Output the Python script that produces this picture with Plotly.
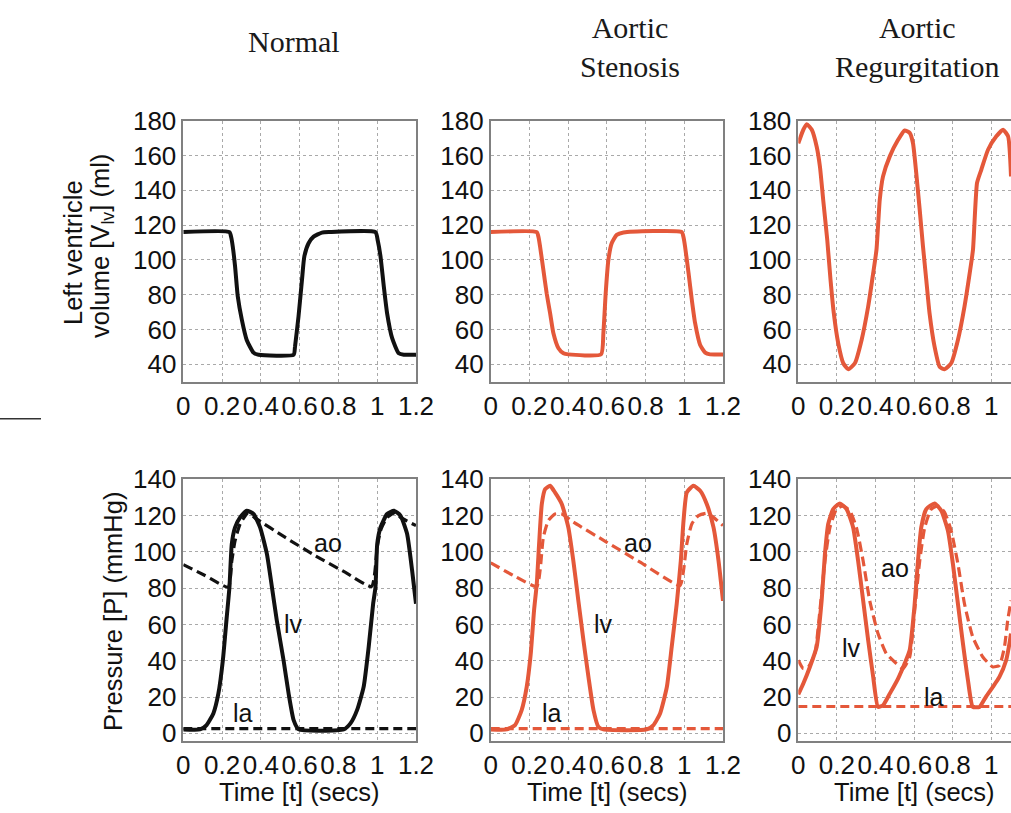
import plotly.graph_objects as go
from plotly.subplots import make_subplots

W, H = 1011, 813
BLACK = "#111111"
ORANGE = "#e4583a"
SANS = "Liberation Sans, Arial, sans-serif"
SERIF = "Liberation Serif, Times New Roman, serif"

# ---------------- data ----------------
column_titles = ["Normal", "Aortic<br>Stenosis", "Aortic<br>Regurgitation"]
x_tick_vals = [0, 0.2, 0.4, 0.6, 0.8, 1.0, 1.2]
x_tick_text = ["0", "0.2", "0.4", "0.6", "0.8", "1", "1.2"]
vol_tick_vals = [40, 60, 80, 100, 120, 140, 160, 180]
p_tick_vals = [0, 20, 40, 60, 80, 100, 120, 140]

# Left ventricle volume (ml)
t_vol_normal = [0, 0.238, 0.247, 0.255, 0.267, 0.281, 0.302, 0.327, 0.362, 0.388, 0.569, 0.576,
                0.594, 0.612, 0.624, 0.646, 0.672, 0.715, 0.75, 0.991, 1.003, 1.017, 1.034,
                1.051, 1.077, 1.111, 1.137, 1.2]
v_normal = [116, 116, 113, 107.7, 96.2, 78.9, 65.5, 54, 46.7, 45.5, 45.5, 50.1,
            67.4, 88.5, 101.9, 109.6, 113.4, 115.7, 116, 116, 111, 102, 84.7,
            69.3, 55, 46.3, 45.5, 45.5]

t_vol_as = [0, 0.238, 0.247, 0.255, 0.272, 0.289, 0.307, 0.324, 0.35, 0.376, 0.401, 0.57, 0.582,
            0.594, 0.608, 0.625, 0.651, 0.686, 0.987, 0.996, 1.004, 1.022, 1.039, 1.056,
            1.082, 1.108, 1.133, 1.2]
v_as = [116, 116, 113, 107.7, 94.3, 80.8, 69.3, 57.8, 49.2, 46.3, 45.7, 45.7, 57.8,
        80.8, 100, 109.6, 114.4, 115.8, 116, 113, 107.7, 92.4, 77, 63.6,
        51.1, 46.7, 45.7, 45.7]

t_vol_ar = [0, 0.026, 0.044, 0.07, 0.095, 0.112, 0.129, 0.15, 0.167, 0.184, 0.207, 0.233, 0.259,
            0.293, 0.328, 0.362, 0.388, 0.405, 0.422, 0.439, 0.474, 0.517, 0.551, 0.577,
            0.594, 0.611, 0.629, 0.646, 0.663, 0.68, 0.706, 0.732, 0.758, 0.792, 0.827,
            0.861, 0.888, 0.905, 0.926, 0.948, 0.983, 1.026, 1.061, 1.087, 1.102]
v_ar = [167, 174.8, 178, 174.8, 165.2, 153.7, 134.5, 111.5, 88.5, 69.3, 52, 40.6, 37.1,
        40.6, 54, 73.2, 92.4, 105.8, 134.5, 148, 159.5, 169, 174.4, 173,
        167.2, 150, 128.8, 107.7, 88.5, 69.3, 50.1, 38.6, 37.1, 40.6, 54,
        73.2, 92.4, 105.8, 144.2, 151.8, 163.3, 171, 174.8, 171, 148]

# Pressures (mmHg) - Normal
t_lv_normal = [0, 0.086, 0.12, 0.155, 0.181, 0.204, 0.224, 0.238, 0.25, 0.267, 0.293, 0.327,
               0.362, 0.396, 0.431, 0.457, 0.482, 0.517, 0.543, 0.569, 0.595, 0.827, 0.862,
               0.896, 0.93, 0.956, 0.979, 0.991, 1.0, 1.017, 1.051, 1.086, 1.12, 1.154,
               1.18, 1.2]
p_lv_normal = [2.2, 2.2, 4.6, 11, 22, 40.3, 64.1, 80.6, 104.4, 113.5, 119, 122.7,
               120.9, 113.5, 98.9, 80.6, 62.3, 40.3, 22, 7.3, 2.2, 2.2, 5.5,
               12.8, 25.6, 47.6, 71.4, 80.6, 104.4, 113.5, 120.9, 122.7, 120, 110,
               89.7, 71.4]
t_ao_normal = [0, 0.112, 0.232, 0.25, 0.267, 0.293, 0.336, 0.368, 0.524, 0.679, 0.834, 0.971,
               1.0, 1.017, 1.051, 1.094, 1.12, 1.2]
p_ao_normal = [93, 87, 80.6, 95, 106.2, 115.4, 121.8, 118.9, 108.1, 98, 88.8, 81,
               102.6, 111.7, 119, 121.8, 119, 114.5]
t_la_normal = [0, 0.3, 0.6, 0.9, 1.2]
p_la_normal = [2.6, 2.6, 2.6, 2.6, 2.6]

# Pressures (mmHg) - Aortic stenosis
t_lv_as = [0, 0.083, 0.126, 0.16, 0.186, 0.207, 0.224, 0.238, 0.25, 0.264, 0.281, 0.307,
           0.332, 0.367, 0.401, 0.427, 0.453, 0.479, 0.505, 0.531, 0.556, 0.582, 0.806,
           0.841, 0.875, 0.91, 0.935, 0.961, 0.982, 0.996, 1.013, 1.047, 1.082, 1.116,
           1.151, 1.177, 1.2]
p_lv_as = [2.2, 2.2, 4.6, 12.8, 25.6, 44, 67.8, 82.4, 104.4, 126.4, 134.6, 136.4,
           132.8, 126.4, 113.5, 95, 73, 51.3, 31.1, 12.8, 3.7, 2.2, 2.2,
           4.6, 11, 25.6, 47.6, 71.4, 95, 117, 132.8, 136.4, 133.7, 126.4,
           113.5, 95, 73]
t_ao_as = [0, 0.117, 0.238, 0.255, 0.272, 0.298, 0.332, 0.367, 0.427, 0.6, 0.772, 0.978,
           0.996, 1.013, 1.039, 1.073, 1.116, 1.151, 1.2]
p_ao_as = [94, 87, 80.9, 89.7, 108, 117.3, 120.9, 120.9, 116.4, 105.3, 94.3, 81.5,
           89.7, 104.4, 115.4, 120, 121.3, 119, 114.5]
t_la_as = [0, 0.3, 0.6, 0.9, 1.2]
p_la_as = [2.6, 2.6, 2.6, 2.6, 2.6]

# Pressures (mmHg) - Aortic regurgitation
t_lv_ar = [0, 0.026, 0.06, 0.095, 0.121, 0.138, 0.155, 0.181, 0.215, 0.25, 0.284, 0.31,
           0.336, 0.362, 0.388, 0.413, 0.439, 0.474, 0.517, 0.551, 0.577, 0.603, 0.62,
           0.637, 0.663, 0.706, 0.741, 0.775, 0.801, 0.827, 0.853, 0.879, 0.904, 0.939,
           0.973, 1.008, 1.042, 1.077, 1.094, 1.102]
p_lv_ar = [21.5, 27.5, 36.6, 47.6, 73.2, 98.9, 115.4, 123.6, 126.7, 123.6, 113.5, 95,
           73.2, 51.3, 31.1, 14.6, 15.5, 21.9, 30.2, 38.5, 45.8, 71.4, 95,
           113.5, 123.6, 126.7, 122.7, 111.7, 93.4, 71.4, 49.5, 29.3, 14.6, 14.6,
           20.3, 25.6, 31.1, 40.3, 49.5, 55]
t_ao_ar = [0, 0.026, 0.052, 0.086, 0.112, 0.138, 0.164, 0.198, 0.233, 0.267, 0.301, 0.336,
           0.37, 0.413, 0.456, 0.508, 0.543, 0.577, 0.603, 0.629, 0.655, 0.689, 0.724,
           0.758, 0.792, 0.827, 0.861, 0.904, 0.956, 1.008, 1.042, 1.068, 1.085, 1.102]
p_ao_ar = [40.3, 35.7, 36.6, 44, 67.8, 95, 113.5, 123.6, 125.3, 122.7, 113.5, 95,
           73.2, 55, 44, 38.5, 35.7, 42.1, 67.8, 95, 113.5, 123.6, 125.3,
           121.8, 111.7, 93.4, 71.4, 53.1, 42.1, 36.6, 37.5, 47.6, 62.3, 73.2]
t_la_ar = [0, 0.3, 0.6, 0.9, 1.102]
p_la_ar = [14.8, 14.8, 14.8, 14.8, 14.8]

# curve labels: (text, t, p) per column
labels_normal = [("ao", 0.745, 105), ("lv", 0.567, 60), ("la", 0.306, 11)]
labels_as = [("ao", 0.763, 105), ("lv", 0.582, 60), ("la", 0.319, 11)]
labels_ar = [("ao", 0.5, 91), ("lv", 0.276, 47), ("la", 0.701, 20)]

# ---------------- figure ----------------
fig = make_subplots(rows=2, cols=3)

def px_x(p):
    return p / W

def px_y(p):
    return 1 - p / H

col_left = [183.3, 490.7, 798.3]
col_right = [416.0, 723.0, 1011.0]
x_max = [1.2, 1.2, 1.102]
row_top = [120.7, 479.3]
row_bot = [381.7, 741.0]

vol_sets = [(t_vol_normal, v_normal, BLACK), (t_vol_as, v_as, ORANGE), (t_vol_ar, v_ar, ORANGE)]
p_sets = [
    (t_lv_normal, p_lv_normal, t_ao_normal, p_ao_normal, t_la_normal, p_la_normal, BLACK, labels_normal),
    (t_lv_as, p_lv_as, t_ao_as, p_ao_as, t_la_as, p_la_as, ORANGE, labels_as),
    (t_lv_ar, p_lv_ar, t_ao_ar, p_ao_ar, t_la_ar, p_la_ar, ORANGE, labels_ar),
]

for c in range(3):
    t, v, col = vol_sets[c]
    fig.add_trace(go.Scatter(x=t, y=v, mode="lines",
                             line=dict(color=col, width=4, shape="spline", smoothing=0.5),
                             showlegend=False, hoverinfo="skip"), row=1, col=c + 1)
    tl, pl, ta, pa, tla, pla, col, labs = p_sets[c]
    fig.add_trace(go.Scatter(x=tla, y=pla, mode="lines",
                             line=dict(color=col, width=3.2, dash="9px,5px"),
                             showlegend=False, hoverinfo="skip"), row=2, col=c + 1)
    fig.add_trace(go.Scatter(x=ta, y=pa, mode="lines",
                             line=dict(color=col, width=3.2, dash="10px,5px", shape="spline", smoothing=0.5),
                             showlegend=False, hoverinfo="skip"), row=2, col=c + 1)
    fig.add_trace(go.Scatter(x=tl, y=pl, mode="lines",
                             line=dict(color=col, width=4, shape="spline", smoothing=0.5),
                             showlegend=False, hoverinfo="skip"), row=2, col=c + 1)
    for txt, lt, lp in labs:
        fig.add_annotation(text=txt, x=lt, y=lp, xref=f"x{c + 4}", yref=f"y{c + 4}",
                           showarrow=False, font=dict(family=SANS, size=25, color=BLACK))

tick_font = dict(family=SANS, size=26, color=BLACK)
for r in range(2):
    for c in range(3):
        idx = r * 3 + c + 1
        xname = "xaxis" if idx == 1 else f"xaxis{idx}"
        yname = "yaxis" if idx == 1 else f"yaxis{idx}"
        # only ticks that fall inside the visible range
        tv = [v for v in x_tick_vals if v <= x_max[c] + 1e-9]
        tt = x_tick_text[:len(tv)]
        fig.layout[xname].update(
            domain=[px_x(col_left[c]), px_x(col_right[c])],
            range=[0, x_max[c]], tickvals=tv, ticktext=tt,
            showgrid=True, gridcolor="#a9a9a9", griddash="dot", gridwidth=1,
            zeroline=False, showline=True, mirror=True, linecolor="#808080", linewidth=1.5,
            ticks="", tickfont=tick_font, fixedrange=True, automargin=False)
        fig.layout[yname].update(
            domain=[px_y(row_bot[r]), px_y(row_top[r])],
            range=[30, 180] if r == 0 else [-4.2, 140],
            tickvals=vol_tick_vals if r == 0 else p_tick_vals,
            showgrid=True, gridcolor="#a9a9a9", griddash="dot", gridwidth=1,
            zeroline=False, showline=True, mirror=(c != 2), linecolor="#808080", linewidth=1.5,
            ticks="", tickfont=tick_font, fixedrange=True, automargin=False)

# column titles
title_centers = [294, 630, 917]
title_mid_y = [42, 46.5, 46.5]
for c, txt in enumerate(column_titles):
    fig.add_annotation(text=txt, x=px_x(title_centers[c]), y=px_y(title_mid_y[c]),
                       xref="paper", yref="paper", xanchor="center", yanchor="middle",
                       showarrow=False, font=dict(family=SERIF, size=30, color="#1a1a1a"))

# axis titles
for c in range(3):
    fig.add_annotation(text="Time [t] (secs)", x=px_x((col_left[c] + col_left[c] + 232.7) / 2), y=px_y(792),
                       xref="paper", yref="paper", xanchor="center", yanchor="middle",
                       showarrow=False, font=dict(family=SANS, size=25.5, color=BLACK))

fig.add_annotation(text="Left ventricle", x=px_x(73), y=px_y(253), xref="paper", yref="paper",
                   xanchor="center", yanchor="middle", textangle=-90, showarrow=False,
                   font=dict(family=SANS, size=25.5, color=BLACK))
fig.add_annotation(text="volume [V<sub>lv</sub>] (ml)", x=px_x(102), y=px_y(246), xref="paper", yref="paper",
                   xanchor="center", yanchor="middle", textangle=-90, showarrow=False,
                   font=dict(family=SANS, size=25.5, color=BLACK))
fig.add_annotation(text="Pressure [P] (mmHg)", x=px_x(113), y=px_y(612), xref="paper", yref="paper",
                   xanchor="center", yanchor="middle", textangle=-90, showarrow=False,
                   font=dict(family=SANS, size=25.5, color=BLACK))

# small separator stroke at left edge
fig.add_shape(type="line", xref="paper", yref="paper", x0=0, x1=px_x(41), y0=px_y(418.7), y1=px_y(418.7),
              line=dict(color="#333333", width=1.5))

fig.update_layout(width=W, height=H, margin=dict(l=0, r=0, t=0, b=0, autoexpand=False),
                  paper_bgcolor="white", plot_bgcolor="white", showlegend=False)

fig.write_html("out.html",
               config={"displayModeBar": False},
               post_script="document.body.style.margin='0';"
                           "document.documentElement.style.overflow='hidden';"
                           "document.body.style.overflow='hidden';")
